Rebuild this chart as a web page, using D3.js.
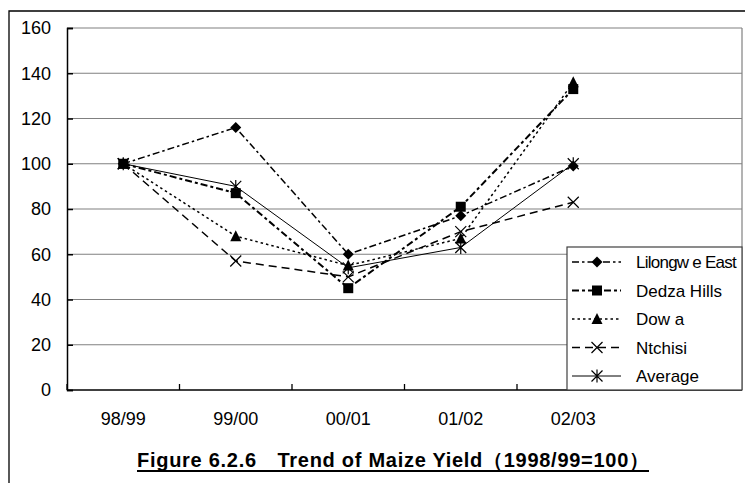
<!DOCTYPE html>
<html><head><meta charset="utf-8">
<script src="https://cdn.jsdelivr.net/npm/d3@7"></script>
<style>
html,body{margin:0;padding:0;background:#fff;}
svg{display:block;}
text{font-family:"Liberation Sans",Arial,sans-serif;fill:#000;}
</style></head>
<body><svg id="chart" width="745" height="483"></svg>
<script>
const categories = ["98/99","99/00","00/01","01/02","02/03"];
const lilongweEast = [100,116,60,77,99];
const dedzaHills   = [100,87,45,81,133];
const dowa         = [100,68,55,67,136];
const ntchisi      = [100,57,50,70,83];
const average      = [100,90,54,63,100];
const yTicks = [0,20,40,60,80,100,120,140,160];
const seriesNames = ["Lilongw e East","Dedza Hills","Dow a","Ntchisi","Average"];
const titleText = "Figure 6.2.6\u3000Trend of Maize Yield\uFF081998/99=100\uFF09";

const series = [
  {name:seriesNames[0], values:lilongweEast, marker:"diamond",  dash:"7,3,2.5,3", width:1.5},
  {name:seriesNames[1], values:dedzaHills,   marker:"square",   dash:"7,3,3,3",   width:2},
  {name:seriesNames[2], values:dowa,         marker:"triangle", dash:"2.5,3",     width:1.5},
  {name:seriesNames[3], values:ntchisi,      marker:"x",        dash:"8,5",       width:1.5},
  {name:seriesNames[4], values:average,      marker:"star",     dash:null,        width:1}
];

const svg = d3.select("#chart");
const L = 67, R = 742, T = 28, B = 390;

// outer frame
svg.append("path").attr("d","M9,483 V11 H745").attr("fill","none")
  .attr("stroke","#000").attr("stroke-width",1.3);

const x = d3.scaleBand().domain(categories).range([L, L + (R - L) * 5 / 6]);
const y = d3.scaleLinear().domain([0,160]).range([B, T]);

// gridlines
svg.append("g").selectAll("line").data(yTicks.filter(d=>d>0)).join("line")
  .attr("x1",L).attr("x2",R).attr("y1",d=>y(d)).attr("y2",d=>y(d))
  .attr("stroke","#808080").attr("stroke-width",1.2);
// right plot border
svg.append("line").attr("x1",R).attr("x2",R).attr("y1",T).attr("y2",B)
  .attr("stroke","#808080").attr("stroke-width",1.2);

// y axis
const yAxis = d3.axisLeft(y).tickValues(yTicks).tickSize(-6).tickPadding(16);
const gy = svg.append("g").attr("transform",`translate(${L},0)`).call(yAxis);
gy.select(".domain").attr("stroke","#000").attr("stroke-width",1.5);
gy.selectAll(".tick line").attr("stroke","#000").attr("stroke-width",1.5);
gy.selectAll(".tick text").attr("font-size",18).attr("font-family","Liberation Sans, Arial, sans-serif").attr("fill","#000");

// x axis
const gx = svg.append("g").attr("transform",`translate(0,${B})`);
gx.append("line").attr("x1",L).attr("x2",R).attr("stroke","#000").attr("stroke-width",1.5);
const bounds = categories.map(c=>x(c)).concat([x(categories[categories.length-1])+x.bandwidth()]);
gx.selectAll(".xt").data(bounds).join("line").attr("class","xt")
  .attr("x1",d=>d).attr("x2",d=>d).attr("y1",0).attr("y2",-6)
  .attr("stroke","#000").attr("stroke-width",1.3);
gx.selectAll(".xl").data(categories).join("text").attr("class","xl")
  .attr("x",d=>x(d)+x.bandwidth()/2).attr("y",35)
  .attr("text-anchor","middle").attr("font-size",18).text(d=>d);

// marker generator
function drawMarker(g, type, cx, cy){
  const s = 5.5;
  if(type==="diamond"){
    g.append("path").attr("d",`M${cx},${cy-s} L${cx+s},${cy} L${cx},${cy+s} L${cx-s},${cy} Z`).attr("fill","#000");
  } else if(type==="square"){
    g.append("rect").attr("x",cx-5).attr("y",cy-5).attr("width",10).attr("height",10).attr("fill","#000");
  } else if(type==="triangle"){
    g.append("path").attr("d",`M${cx},${cy-6} L${cx+5.5},${cy+5} L${cx-5.5},${cy+5} Z`).attr("fill","#000");
  } else if(type==="x"){
    g.append("path").attr("d",`M${cx-s},${cy-s} L${cx+s},${cy+s} M${cx-s},${cy+s} L${cx+s},${cy-s}`)
      .attr("stroke","#000").attr("stroke-width",1.2).attr("fill","none");
  } else if(type==="star"){
    g.append("path").attr("d",`M${cx-s},${cy-s} L${cx+s},${cy+s} M${cx-s},${cy+s} L${cx+s},${cy-s} M${cx},${cy-s-1} L${cx},${cy+s+1}`)
      .attr("stroke","#000").attr("stroke-width",1.2).attr("fill","none");
  }
}

const line = d3.line().x((d,i)=>x(categories[i])+x.bandwidth()/2).y(d=>y(d));
series.forEach(s=>{
  const g = svg.append("g");
  g.append("path").datum(s.values).attr("d",line).attr("fill","none")
    .attr("stroke","#000").attr("stroke-width",s.width)
    .attr("stroke-dasharray",s.dash);
  s.values.forEach((v,i)=>drawMarker(g, s.marker, x(categories[i])+x.bandwidth()/2, y(v)));
});

// legend
const lg = svg.append("g");
lg.append("rect").attr("x",567).attr("y",247).attr("width",175).attr("height",143)
  .attr("fill","#fff").attr("stroke","#404040").attr("stroke-width",1.2);
series.forEach((s,i)=>{
  const cy = 262 + i*28.5;
  lg.append("line").attr("x1",572).attr("x2",621).attr("y1",cy).attr("y2",cy)
    .attr("stroke","#000").attr("stroke-width",s.width).attr("stroke-dasharray",s.dash);
  drawMarker(lg, s.marker, 597, cy);
  const t = lg.append("text").attr("x",636).attr("y",cy).attr("dy","0.36em").attr("font-size",17).text(s.name);
  const w = t.node().getComputedTextLength();
  if (w > 100) {
    t.style("letter-spacing", (-(w - 100) / s.name.length) + "px");
  }
});

// title
const title = svg.append("text").attr("x",393).attr("y",467).attr("text-anchor","middle")
  .attr("font-size",20).attr("font-weight","bold")
  .attr("textLength",512).attr("lengthAdjust","spacing").text(titleText);
svg.append("line").attr("x1",393-256).attr("x2",393+256).attr("y1",471).attr("y2",471)
  .attr("stroke","#000").attr("stroke-width",2);
</script></body></html>
